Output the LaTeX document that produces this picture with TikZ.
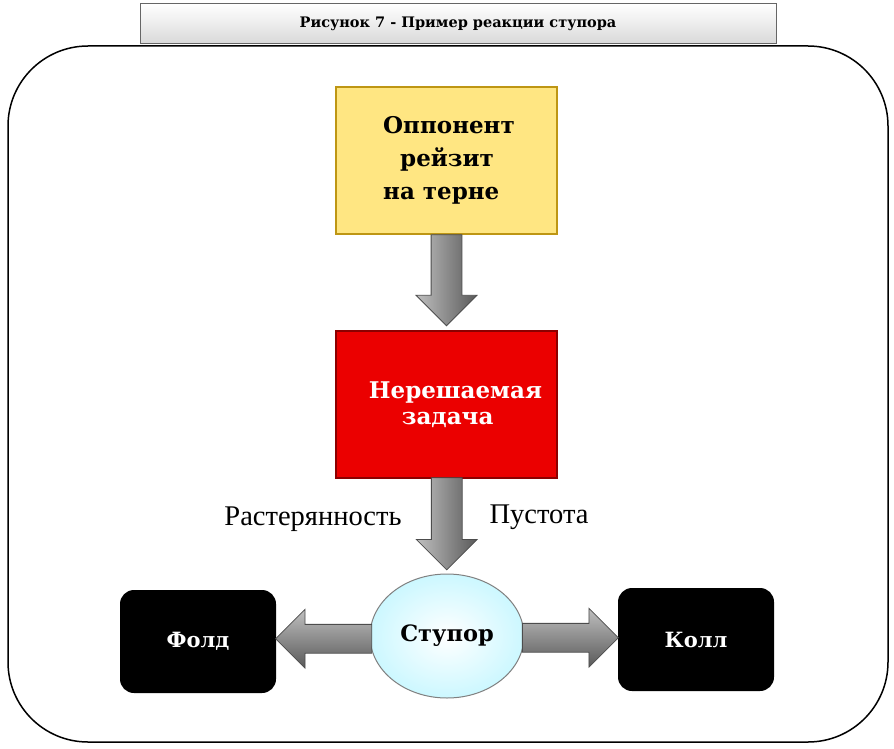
\documentclass[tikz,border=0pt]{standalone}
\usepackage{fontspec}
\setmainfont{DejaVu Serif}
\newfontfamily\lab{Liberation Serif}
\usetikzlibrary{shapes.geometric,shapes.arrows,calc,shadows}
\definecolor{gold}{RGB}{255,230,130}
\definecolor{goldd}{RGB}{190,150,20}
\definecolor{redf}{RGB}{235,0,0}
\tikzset{
 box/.style={draw, line width=1.5pt, minimum width=221pt, minimum height=147pt, inner sep=0pt, font=\bfseries\fontsize{23}{26}\selectfont, align=left},
 blk/.style={fill=black, rounded corners=14pt, minimum width=156pt, minimum height=103pt, text=white, font=\bfseries\fontsize{21}{24}\selectfont},
 arr/.style={single arrow, draw=black!70, line width=0.8pt, top color=black!25, bottom color=black!65, shading angle=90, single arrow head extend=15pt, inner ysep=15pt, inner xsep=0pt, single arrow tip angle=90},
 lbl/.style={font=\lab\fontsize{28.5}{32}\selectfont}
}
\begin{document}
\begin{tikzpicture}[x=1pt,y=-1pt]
\useasboundingbox (0,0) rectangle (894,749);
\draw[line width=1.5pt, rounded corners=80pt, fill=white] (8,46) rectangle (888,742);
\node[draw=black!60, line width=1pt, top color=white, bottom color=black!15, minimum width=636pt, minimum height=40pt, font=\bfseries\fontsize{14.5}{16}\selectfont] (title) at (458,24) {Рисунок 7 - Пример реакции ступора};
\node[box, fill=gold, draw=goldd] (opp) at (446.5,160.5) {};
\node[font=\bfseries\fontsize{23}{33}\selectfont, align=left, anchor=north west, inner sep=0pt] (opptext) at (383,116) {Оппонент\\\hspace*{17pt}рейзит\\на терне};
\node[box, fill=redf, draw=red!55!black, text=white] (task) at (446.5,404.5) {\hspace*{18pt}Нерешаемая\\\hspace*{51pt}задача};
\node[ellipse, draw=black!50, line width=1pt, inner color=white, outer color=blue!15!cyan!20, minimum width=154pt, minimum height=124pt, font=\bfseries\fontsize{22.5}{26}\selectfont] (st) at (447,636) {Ступор};
\node[blk] (fold) at (198,641.5) {Фолд};
\node[blk] (call) at (696,639.5) {Колл};
\node[arr, minimum height=91pt, rotate=-90] (a1) at ($(opp.south)!0.5!(task.north)+(0,-10)$) {};
\node[arr, minimum height=92pt, rotate=-90] (a2) at ($(task.south)!0.5!(st.north)+(0,-10)$) {};
\node[arr, minimum height=96pt, inner ysep=14pt, rotate=180, shading angle=0] (a3) at ($(fold.east)!0.5!(st.west)+(8,0)$) {};
\node[arr, minimum height=96pt, inner ysep=14pt, shading angle=0] (a4) at ($(st.east)!0.5!(call.west)+(-8,0)$) {};
\node[lbl] (l1) at (313,519) {Растерянность};
\node[lbl] (l2) at (539,517) {Пустота};
\end{tikzpicture}
\end{document}
